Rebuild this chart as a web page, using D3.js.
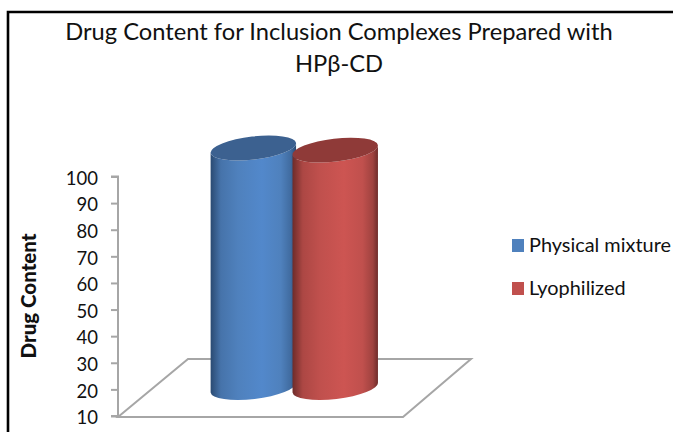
<!DOCTYPE html>
<html>
<head>
<meta charset="utf-8">
<script src="https://cdn.jsdelivr.net/npm/d3@7"></script>
<style>
html,body{margin:0;padding:0;background:#fff;}
svg{display:block;}
text{font-family:Lato,"Noto Sans",sans-serif;fill:#111;}
</style>
</head>
<body>
<svg id="chart" width="673" height="432"></svg>
<script>
// Drug content values for the two preparation methods
const seriesNames = ["Physical mixture", "Lyophilized"];
const drugContent = [100, 99.2];
const seriesBase = ["#4f81bd", "#c0504d"];
const seriesLight = ["#5288cb", "#cd5552"];
const seriesDark = ["#2a4a72", "#6e2c2a"];
const seriesTop = ["#3c6190", "#8f3a38"];
const yTicks = [10, 20, 30, 40, 50, 60, 70, 80, 90, 100];
const titleLines = ["Drug Content for Inclusion Complexes Prepared with", "HPβ-CD"];
const yTitle = "Drug Content";

const svg = d3.select("#chart");
const defs = svg.append("defs");

// Frame around the chart area
svg.append("path")
  .attr("d", "M8,432V12H673")
  .attr("fill", "none").attr("stroke", "#000").attr("stroke-width", 2.6);

// Title
svg.append("g").selectAll("text").data(titleLines).join("text")
  .attr("x", 339).attr("y", (d, i) => 40 + i * 32)
  .attr("text-anchor", "middle").attr("font-size", 23.7)
  .text(d => d);

// Oblique projection: the floor recedes up and to the right
const y = d3.scaleLinear().domain([10, 100]).range([416, 176.5]);
const floorW = 285, depthX = 70, depthY = 57, frontX = 118;
const midDepth = 0.5;
const x = d3.scaleBand().domain(seriesNames)
  .range([frontX + depthX * midDepth, frontX + depthX * midDepth + floorW])
  .paddingInner(0).paddingOuter(0.74).align(0.49);

// Value axis
const axis = d3.axisLeft(y).tickValues(yTicks).tickSize(7).tickPadding(13).tickFormat(d3.format("d"));
const axisG = svg.append("g").attr("transform", `translate(${frontX},0)`).call(axis);
axisG.selectAll("path,line").attr("stroke", "#a6a6a6").attr("stroke-width", 2);
axisG.select(".domain").attr("d", `M-7,${y(100)}H0V${y(10)}H-7`);
axisG.selectAll("text").attr("font-size", 18.5).attr("font-family", "Lato").attr("fill", "#111")
  .attr("dy", "0.42em");

// Axis title
svg.append("text")
  .attr("transform", "translate(36,296) rotate(-90)")
  .attr("text-anchor", "middle").attr("font-size", 20.5).attr("font-weight", 900)
  .text(yTitle);

// Floor of the 3D plot
const fy = y(10) + 1;
svg.append("path")
  .attr("d", `M${frontX},${fy}L${frontX + depthX},${fy - depthY - 1}H${frontX + depthX + floorW - 2}L${frontX + floorW},${fy}Z`)
  .attr("fill", "none").attr("stroke", "#a6a6a6").attr("stroke-width", 2);

// Cylinders
const rx = 43, ry = 11.5, tilt = -6.6;
const sinT = Math.sin(tilt * Math.PI / 180), cosT = Math.cos(tilt * Math.PI / 180);
const baseY = y(10) - depthY * midDepth;

seriesNames.forEach((name, i) => {
  const cx = x(name) + x.bandwidth() / 2;
  const topY = baseY - (y(10) - y(drugContent[i]));
  const dx = rx * cosT, dy = rx * sinT;

  const grad = defs.append("linearGradient").attr("id", "body" + i)
    .attr("x1", 0).attr("x2", 1).attr("y1", 0).attr("y2", 0);
  [[0, seriesDark[i]], [0.12, d3.interpolateRgb(seriesDark[i], seriesBase[i])(0.75)], [0.32, seriesBase[i]],
   [0.6, seriesLight[i]], [0.82, seriesBase[i]], [0.94, d3.interpolateRgb(seriesDark[i], seriesBase[i])(0.6)], [1, seriesDark[i]]]
    .forEach(([o, c]) => grad.append("stop").attr("offset", o).attr("stop-color", c));

  const g = svg.append("g").attr("class", "cylinder");
  g.append("path")
    .attr("d", `M${cx - dx},${topY - dy}L${cx - dx},${baseY - dy}`
      + `A${rx},${ry} ${tilt} 0 0 ${cx + dx},${baseY + dy}`
      + `L${cx + dx},${topY + dy}`
      + `A${rx},${ry} ${tilt} 0 1 ${cx - dx},${topY - dy}Z`)
    .attr("fill", `url(#body${i})`);
  g.append("ellipse")
    .attr("cx", 0).attr("cy", 0).attr("rx", rx).attr("ry", ry)
    .attr("transform", `translate(${cx},${topY}) rotate(${tilt})`)
    .attr("fill", seriesTop[i]);
});

// Legend
const legend = svg.append("g").selectAll("g").data(seriesNames).join("g")
  .attr("transform", (d, i) => `translate(512,${245 + i * 43})`);
legend.append("rect").attr("x", 0).attr("y", -6).attr("width", 12).attr("height", 13)
  .attr("fill", (d, i) => seriesBase[i]);
legend.append("text").attr("x", 17).attr("y", 7).attr("font-size", 19.9).text(d => d);
</script>
</body>
</html>
